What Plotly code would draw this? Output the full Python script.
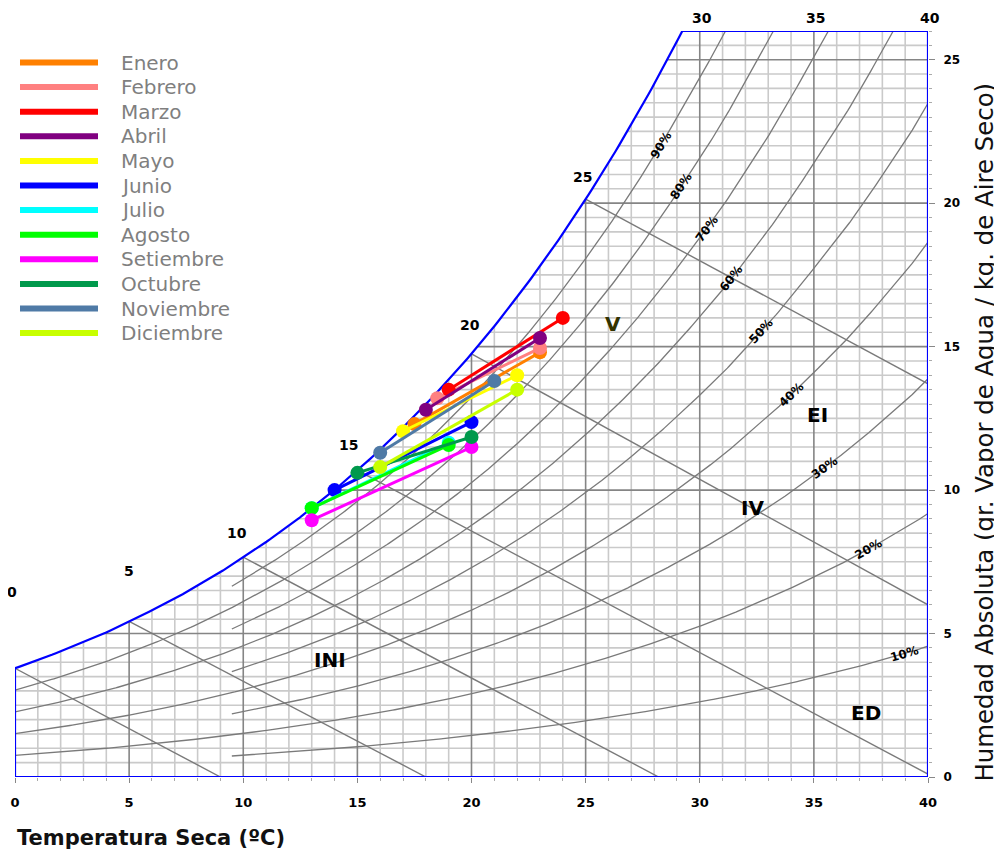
import numpy as np
import plotly.graph_objects as go

# ---------------- DATA ----------------
# Saturation absolute humidity (g water / kg dry air) at 0..40 degC
sat_T = list(range(0, 41))
sat_W = [3.79, 4.07, 4.38, 4.70, 5.04, 5.42, 5.81, 6.22, 6.67, 7.14,
         7.66, 8.19, 8.76, 9.37, 10.01, 10.69, 11.41, 12.18, 12.99, 13.85,
         14.75, 15.71, 16.73, 17.80, 18.94, 20.14, 21.40, 22.74, 24.15, 25.64,
         27.2, 28.8, 30.6, 32.4, 34.4, 36.5, 38.6, 40.9, 43.4, 45.9, 48.8]

# Relative humidity curves (%), start temperature of each curve
rh_levels = [90, 80, 70, 60, 50, 40, 30, 20, 10]
rh_start_T = [9.5, 0, 9.5, 0, 9.5, 0, 9.5, 0, 9.5]
rh_label_T = [28.3, 29.2, 30.3, 31.4, 32.7, 34.0, 35.45, 37.4, 38.95]

# Enthalpy / wet-bulb lines: start on saturation curve at T0, end at (T1, W1)
enth_T0 = [0, 5, 10, 15, 20, 25]
enth_T1 = [9.0, 18.0, 28.2, 40, 40, 40]
enth_W1 = [0, 0, 0, 0.1, 6.0, 13.7]

# Zones
zone_names = ["V", "EI", "IV", "INI", "ED"]
zone_T = [26.2, 35.15, 32.3, 13.8, 37.3]
zone_W = [15.8, 12.6, 9.37, 4.08, 2.23]

# Monthly data: two points per month (max / min temperature)
months = ["Enero", "Febrero", "Marzo", "Abril", "Mayo", "Junio", "Julio",
          "Agosto", "Setiembre", "Octubre", "Noviembre", "Diciembre"]
t_max = [23, 23, 24, 23, 22, 20, 19, 19, 20, 20, 21, 22]
w_max = [14.8, 14.95, 16.0, 15.3, 14.0, 12.37, 11.65, 11.57, 11.5, 11.85, 13.8, 13.5]
t_min = [17.5, 18.5, 19, 18, 17, 14, 13, 13, 13, 15, 16, 16]
w_min = [12.3, 13.2, 13.5, 12.8, 12.05, 10.0, 9.37, 9.37, 8.95, 10.6, 11.3, 10.8]

x_ticks = [0, 5, 10, 15, 20, 25, 30, 35, 40]
y_ticks = [0, 5, 10, 15, 20, 25]
sat_label_T = [0, 5, 10, 15, 20, 25]
top_label_T = [30, 35, 40]

# ---------------- STYLE ----------------
colors = ["#ff8000", "#ff8080", "#ff0000", "#800080", "#ffff00", "#0000ff",
          "#00ffff", "#00ff00", "#ff00ff", "#00994c", "#4f7aa6", "#c8ff00"]
T_MAX, W_MAX = 40, 26
P = 101.325
# page offset of 8px (default body margin) compensated in margins/size
OFF = 8
ML, MR, MT, MB = 7, 74, 23, 79
WIDTH, HEIGHT = 994, 848
PX_T = (WIDTH - ML - MR) / T_MAX
PX_W = (HEIGHT - MT - MB) / W_MAX
FONT = "DejaVu Sans"
MINOR_C, MAJOR_C, CURVE_C, BORDER_C = "#cacaca", "#858585", "#7a7a7a", "#0000ff"
sat_label_shift = [(-3, 76), (0, 50), (-6, 24), (-9, 25), (-2, 29), (-3, 22)]

logW = np.log(sat_W)


def wsat(t):
    return np.exp(np.interp(t, sat_T, logW))


def tsat(w):
    return float(np.interp(np.log(w), logW, sat_T))


def w_rh(t, phi):
    ws = wsat(t) / 1000.0
    ps = P * ws / (0.622 + ws)
    pv = phi * ps
    return 1000.0 * 0.622 * pv / (P - pv)


T_TOP = tsat(W_MAX)

fig = go.Figure()


def seg_trace(xs, ys, color, width):
    fig.add_trace(go.Scatter(x=xs, y=ys, mode="lines", line=dict(color=color, width=width),
                             hoverinfo="skip", showlegend=False))


# grid lines clipped below saturation curve
for major in (False, True):
    xs, ys = [], []
    for T in range(1, T_MAX):
        if (T % 5 == 0) != major:
            continue
        xs += [T, T, None]
        ys += [0, min(float(wsat(T)), W_MAX), None]
    for k in range(1, W_MAX * 2):
        w = k / 2
        if (w % 5 == 0) != major:
            continue
        left = 0 if w <= sat_W[0] else tsat(w)
        xs += [left, T_MAX, None]
        ys += [w, w, None]
    seg_trace(xs, ys, MAJOR_C if major else MINOR_C, 1.6)

# relative humidity curves
for lvl, t0 in zip(rh_levels, rh_start_T):
    t = np.linspace(t0, T_MAX, 400)
    w = w_rh(t, lvl / 100)
    if np.any(w > W_MAX):
        i = int(np.argmax(w > W_MAX))
        tc = np.interp(W_MAX, [w[i - 1], w[i]], [t[i - 1], t[i]])
        t = np.append(t[:i], tc)
        w = np.append(w[:i], W_MAX)
    seg_trace(t, w, CURVE_C, 1.3)

# enthalpy lines
for t0, t1, w1 in zip(enth_T0, enth_T1, enth_W1):
    seg_trace([t0, t1], [float(wsat(t0)), w1], CURVE_C, 1.4)

# border
tc = np.linspace(0, T_TOP, 200)
bx = [0] + list(tc) + [T_TOP, T_MAX, T_MAX, 0]
by = [0] + list(wsat(tc)) + [W_MAX, W_MAX, 0, 0]
seg_trace(bx, by, BORDER_C, 2.2)

# monthly data
for m, c, a, b, cc, d in zip(months, colors, t_min, w_min, t_max, w_max):
    fig.add_trace(go.Scatter(x=[a, cc], y=[b, d], mode="lines+markers", name=m,
                             line=dict(color=c, width=3), marker=dict(color=c, size=14),
                             showlegend=False))

annotations = []
# RH labels
for lvl, tl in zip(rh_levels, rh_label_T):
    wl = float(w_rh(tl, lvl / 100))
    slope = (float(w_rh(tl + 0.1, lvl / 100)) - float(w_rh(tl - 0.1, lvl / 100))) / 0.2
    ang = -np.degrees(np.arctan(slope * PX_W / PX_T))
    annotations.append(dict(x=tl, y=wl, text=f"{lvl}%", showarrow=False, textangle=ang,
                            font=dict(family=FONT, size=12, color="#000", weight="bold")))
# zone labels
for zn, zt, zw in zip(zone_names, zone_T, zone_W):
    annotations.append(dict(x=zt, y=zw, text=zn, showarrow=False,
                            font=dict(family=FONT, size=20, weight="bold",
                                      color="#333300" if zn == "V" else "#000")))
# temperature labels on saturation curve and top
for tl, (dx, dy) in zip(sat_label_T, sat_label_shift):
    annotations.append(dict(x=tl, y=float(wsat(tl)), text=str(tl), showarrow=False,
                            xshift=dx, yshift=dy,
                            font=dict(family=FONT, size=14, weight="bold", color="#000")))
for tl in top_label_T:
    annotations.append(dict(x=tl, y=W_MAX, text=str(tl), showarrow=False, yshift=13,
                            xshift=2, font=dict(family=FONT, size=14, weight="bold", color="#000")))

# custom legend (helper axes in page-pixel units)
LEG_X0, LEG_X1, LEG_TX, LEG_Y0, LEG_DY = 20, 98, 119, 62.5, 24.6
for i, (m, c) in enumerate(zip(months, colors)):
    yy = LEG_Y0 + i * LEG_DY
    fig.add_trace(go.Scatter(x=[LEG_X0, LEG_X1], y=[yy, yy], mode="lines", xaxis="x2", yaxis="y2",
                             line=dict(color=c, width=6), hoverinfo="skip", showlegend=False))
    annotations.append(dict(x=LEG_TX, y=yy, xref="x2", yref="y2", text=m, showarrow=False,
                            xanchor="left", yanchor="middle",
                            font=dict(family=FONT, size=20, color="#7f7f7f")))

# axis titles
annotations.append(dict(x=0, y=-0.082, xref="paper", yref="paper", text="Temperatura Seca (ºC)",
                        showarrow=False, xanchor="left", yanchor="middle",
                        font=dict(family=FONT, size=21, weight="bold", color="#111")))
annotations.append(dict(x=1.0624, y=0.463, xref="paper", yref="paper",
                        text="Humedad Absoluta (gr. Vapor de Agua / kg. de Aire Seco)",
                        showarrow=False, textangle=-90, xanchor="center", yanchor="middle",
                        font=dict(family=FONT, size=24.4, color="#111")))

fig.update_layout(
    width=WIDTH, height=HEIGHT, autosize=False,
    margin=dict(l=ML, r=MR, t=MT, b=MB),
    paper_bgcolor="white", plot_bgcolor="white",
    showlegend=False,
    annotations=annotations,
    xaxis=dict(range=[0, T_MAX], tickvals=x_ticks, showgrid=False, zeroline=False, showline=False,
               automargin=False,
               ticks="outside", ticklen=5, tickcolor="#888", ticklabelstandoff=8,
               minor=dict(dtick=1, ticks="outside", ticklen=3, tickcolor="#aaa", showgrid=False),
               tickfont=dict(family=FONT, size=13, weight="bold", color="#000")),
    yaxis=dict(range=[0, W_MAX], tickvals=y_ticks, side="right", showgrid=False, zeroline=False,
               automargin=False,
               showline=False, ticks="outside", ticklen=6, tickcolor="#888", ticklabelstandoff=6,
               minor=dict(dtick=0.5, ticks="outside", ticklen=3, tickcolor="#aaa", showgrid=False),
               tickfont=dict(family=FONT, size=12, weight="bold", color="#000")),
    xaxis2=dict(range=[ML + OFF, WIDTH + OFF - MR], overlaying="x", anchor="y2", visible=False,
                automargin=False),
    yaxis2=dict(range=[HEIGHT + OFF - MB, MT + OFF], overlaying="y", anchor="x2", visible=False,
                automargin=False),
)

fig.write_html("out.html")
